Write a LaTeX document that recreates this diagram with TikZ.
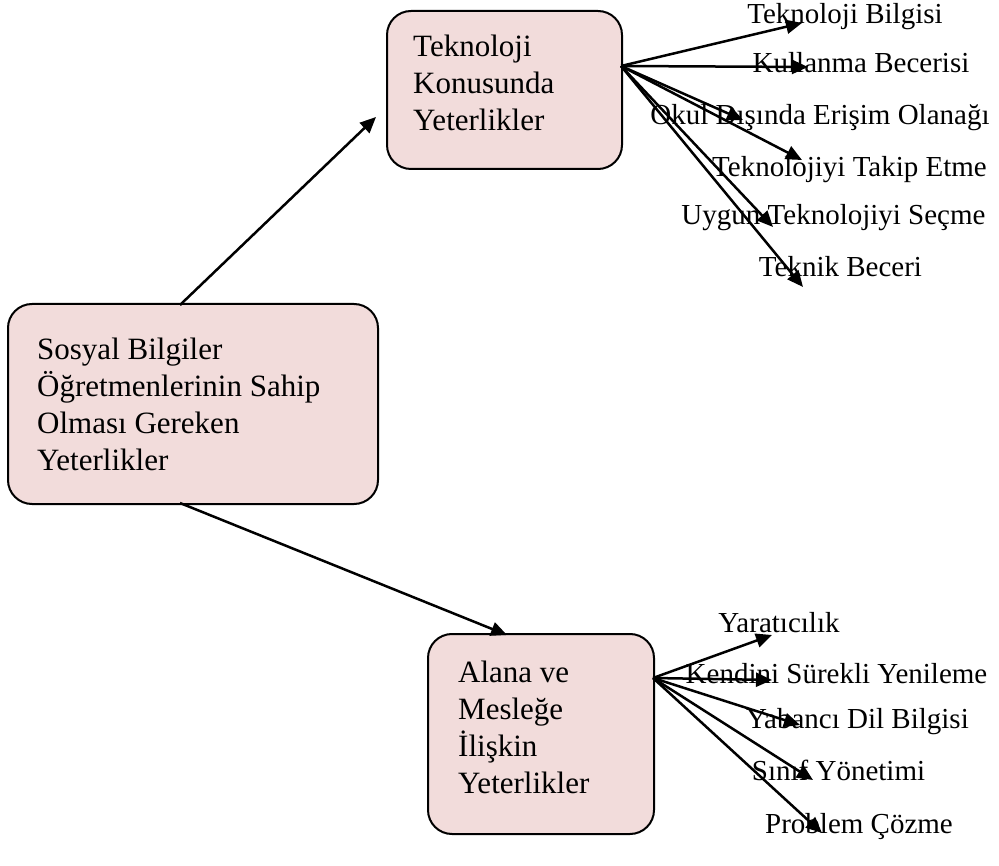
\documentclass[tikz,border=0pt]{standalone}
\usepackage{fontspec}
\setmainfont{Liberation Serif}
\usetikzlibrary{arrows.meta}
\definecolor{boxfill}{HTML}{F2DCDB}
\begin{document}
\begin{tikzpicture}[x=1pt,y=-1pt,
  box/.style={draw=black, line width=2pt, fill=boxfill, rounded corners=24pt, inner sep=0pt},
  boxtext/.style={inner sep=0pt, anchor=base west, font=\fontsize{31}{37}\selectfont},
  leaf/.style={inner sep=0pt, anchor=base, font=\fontsize{29}{35}\selectfont},
  link/.style={line width=2.5pt, -{Triangle[length=16pt,width=14pt]}}]
\useasboundingbox (0,0) rectangle (999,866);

% boxes
\node[box, anchor=north west, minimum width=235pt, minimum height=158pt] (tek) at (386,10) {};
\node[box, anchor=north west, minimum width=370pt, minimum height=200pt] (main) at (7,303) {};
\node[box, anchor=north west, minimum width=226pt, minimum height=200pt] (alan) at (427,633) {};

\node[boxtext] (tekt) at (413,57) {\parbox[t]{300pt}{\raggedright Teknoloji\\Konusunda\\Yeterlikler}};
\node[boxtext] (maint) at (37,360) {\parbox[t]{340pt}{\raggedright Sosyal Bilgiler\\Öğretmenlerinin Sahip\\Olması Gereken\\Yeterlikler}};
\node[boxtext] (alant) at (458,682) {\parbox[t]{300pt}{\raggedright Alana ve\\Mesleğe\\İlişkin\\Yeterlikler}};

% main connectors
\coordinate (mtop) at (180,305);
\coordinate (mbot) at (180,503);
\coordinate (tekin) at (376,117);
\coordinate (alanin) at (507,635);
\draw[link] (mtop) -- (tekin);
\draw[link] (mbot) -- (alanin);

% technology branch
\coordinate (tfan) at (621,66);
\node[leaf] (t1) at (845,24) {Teknoloji Bilgisi};
\node[leaf] (t2) at (861,73) {Kullanma Becerisi};
\node[leaf] (t3) at (820,125) {Okul Dışında Erişim Olanağı};
\node[leaf] (t4) at (849.5,177) {Teknolojiyi Takip Etme};
\node[leaf] (t5) at (833.5,225) {Uygun Teknolojiyi Seçme};
\node[leaf] (t6) at (840.5,277) {Teknik Beceri};
\coordinate (tt1) at (802,23);
\coordinate (tt2) at (808,67);
\coordinate (tt3) at (743,120);
\coordinate (tt4) at (802,160);
\coordinate (tt5) at (773,227);
\coordinate (tt6) at (803,287);
\foreach \i in {1,...,6} \draw[link] (tfan) -- (tt\i);

% field and profession branch
\coordinate (afan) at (653,678);
\node[leaf] (a1) at (779,632) {Yaratıcılık};
\node[leaf] (a2) at (836.5,683) {Kendini Sürekli Yenileme};
\node[leaf] (a3) at (857.5,728) {Yabancı Dil Bilgisi};
\node[leaf] (a4) at (838.5,780) {Sınıf Yönetimi};
\node[leaf] (a5) at (859,833) {Problem Çözme};
\coordinate (at1) at (772,635);
\coordinate (at2) at (772,680);
\coordinate (at3) at (800,725);
\coordinate (at4) at (813,780);
\coordinate (at5) at (822,833);
\foreach \i in {1,...,5} \draw[link] (afan) -- (at\i);
\end{tikzpicture}
\end{document}
